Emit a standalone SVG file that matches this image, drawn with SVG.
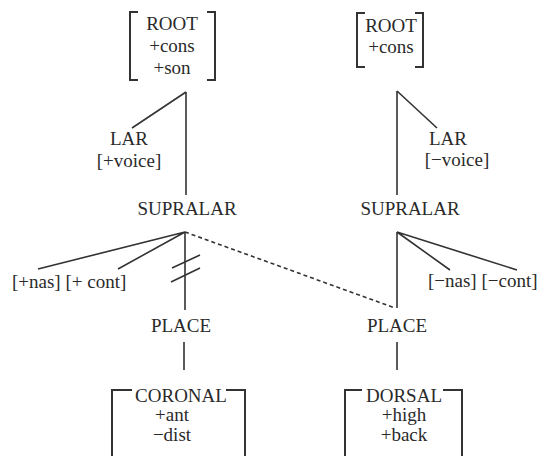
<svg xmlns="http://www.w3.org/2000/svg" width="542" height="456" viewBox="0 0 542 456">
<style>
text{font-size:19px;fill:#2a2a2a;text-anchor:middle}
.l{text-anchor:start}
.br{fill:none;stroke:#333;stroke-width:2}
.ln{stroke:#333;stroke-width:1.6;fill:none}
.d{stroke-dasharray:4 3}
</style>
<rect width="542" height="456" fill="#fff"/>
<g id="connectors">
<path class="ln" d="M186 92V195M186 92L132 128"/>
<path class="ln" d="M397 91V195M397 91L437 128"/>
<path class="ln" d="M185 232L38 269M185 232L118 269M185 232V310"/>
<path class="ln" d="M172 268L200 255M171 282L200 268"/>
<path class="ln d" d="M185 232L395 308"/>
<path class="ln" d="M397 232V308M397 232L450 270M397 232L517 270"/>
<path class="ln" d="M184 342V370M397 342V370"/>
</g>
<g font-family="Liberation Serif, Times New Roman, DejaVu Serif, serif">
<g id="root1">
<path class="br" d="M138 12H130V80H138M207 12H215V80H207"/>
<text x="172" y="30">ROOT</text>
<text x="172" y="52">+cons</text>
<text x="172" y="74">+son</text>
</g>
<g id="root2">
<path class="br" d="M365 13H357V67H365M415 13H423V67H415"/>
<text x="391" y="32">ROOT</text>
<text x="391" y="53">+cons</text>
</g>
<g id="lar1">
<text x="129" y="145">LAR</text>
<text x="129" y="167">[+voice]</text>
</g>
<g id="lar2">
<text x="448" y="145">LAR</text>
<text x="457" y="166">[−voice]</text>
</g>
<g id="supralar1"><text x="187" y="215">SUPRALAR</text></g>
<g id="supralar2"><text x="410" y="215">SUPRALAR</text></g>
<g id="feat1"><text class="l" x="12" y="288">[+nas] [+ cont]</text></g>
<g id="feat2"><text class="l" x="428" y="287">[−nas] [−cont]</text></g>
<g id="place1"><text x="181" y="332">PLACE</text></g>
<g id="place2"><text x="397" y="332">PLACE</text></g>
<g id="coronal">
<path class="br" d="M132 390H112V460M226 390H245V460"/>
<text x="181" y="402">CORONAL</text>
<text x="172" y="421">+ant</text>
<text x="172" y="441">−dist</text>
</g>
<g id="dorsal">
<path class="br" d="M362 390H345V460M443 390H462V460"/>
<text x="404" y="402">DORSAL</text>
<text x="404" y="421">+high</text>
<text x="404" y="441">+back</text>
</g>
</g>
</svg>
